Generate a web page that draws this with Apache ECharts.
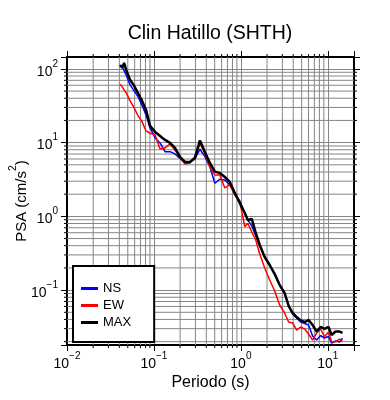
<!DOCTYPE html>
<html><head><meta charset="utf-8">
<script src="https://cdn.jsdelivr.net/npm/echarts@6/dist/echarts.min.js"></script>
<style>html,body{margin:0;padding:0;background:#fff}#c{width:390px;height:400px}</style>
</head><body><div id="c"></div>
<script>
// Period (s)
const periods = [0.0408,0.0431,0.0454,0.0479,0.0532,0.0592,0.0658,0.0731,0.0811,0.0902,
  0.1031,0.1175,0.134,0.1531,0.1746,0.1991,0.2275,0.2594,0.2958,0.3381,
  0.3855,0.4395,0.5023,0.5728,0.6531,0.7464,0.8511,0.9705,1.109,1.2,
  1.334,1.483,1.648,1.879,2.143,2.449,2.793,3.184,3.54,3.936,
  4.375,4.864,5.408,6.012,6.683,7.43,8.26,9.162,10.19,11.04,
  12.27,13.65,14.76];
// PSA (cm/s^2)
const ns = [109.8,106.4,109.8,82.9,60.7,50.3,41.7,31.97,23.8,15.83,
  11.58,9.91,7.55,7.55,7.03,6.10,5.56,5.39,6.01,8.14,
  6.46,4.72,2.81,3.19,3.12,2.67,2.06,1.62,1.11,0.894,
  0.741,0.542,0.397,0.281,0.219,0.165,0.117,0.0913,0.0609,0.0481,
  0.0418,0.0369,0.0352,0.0336,0.0238,0.0210,0.0242,0.0224,0.0235,0.0191,
  0.0204,0.0198,0.0222];
const ew = [62.0,57.0,51.9,47.2,36.8,29.6,23.0,19.10,14.41,13.41,
  12.72,8.2,8.48,9.60,7.96,6.20,5.14,5.30,6.40,9.75,
  7.14,4.68,3.65,3.65,2.43,2.67,1.95,1.57,0.725,0.806,
  0.614,0.478,0.309,0.1995,0.1371,0.0972,0.0628,0.0489,0.0369,0.0358,
  0.0287,0.0316,0.0297,0.0254,0.0210,0.0262,0.0297,0.0233,0.0270,0.0200,
  0.0200,0.0217,0.0200];
const maxv = [113.3,103.2,120.6,96.9,70.9,58.8,46.5,36.8,27.8,16.85,
  13.97,12.33,10.88,9.91,8.48,6.40,5.47,5.47,6.20,10.71,
  7.48,5.30,4.04,3.88,3.42,2.93,2.08,1.52,1.11,0.894,
  0.922,0.595,0.409,0.281,0.219,0.165,0.117,0.0913,0.0609,0.0489,
  0.0431,0.0387,0.0369,0.0393,0.0336,0.0274,0.0316,0.0297,0.0316,0.0246,
  0.0274,0.0274,0.0262];

const seriesNames = ['NS','EW','MAX'];
const xMin = 0.01, xMax = 20, yMin = 0.018, yMax = 145;
const minorMultipliers = [2,3,4,5,6,7,8,9];
const xDecades = [-2,-1,0,1];
const yDecades = [-2,-1,0,1,2];

const FONT = "'Liberation Sans', Arial, Helvetica, sans-serif";
const GRID_COLOR = '#858585';

function minorValues(decades, lo, hi) {
  const out = [];
  decades.forEach(k => minorMultipliers.forEach(m => {
    const v = +(m * Math.pow(10, k)).toPrecision(3);
    if (v > lo && v < hi) out.push(v);
  }));
  return out;
}
const xMinor = minorValues(xDecades, xMin, xMax);
const yMinor = minorValues(yDecades, yMin, yMax);

function powLabel(value) {
  const l = Math.log10(value);
  const e = Math.round(l);
  if (Math.abs(l - e) > 1e-6) return '';
  return '{b|10}{sup|' + (e < 0 ? '\u2212' + (-e) : String(e)) + '}';
}
const labelRich = {
  b: { fontSize: 14, fontFamily: FONT, color: '#000', lineHeight: 20, verticalAlign: 'bottom' },
  sup: { fontSize: 10, fontFamily: FONT, color: '#000', verticalAlign: 'top', lineHeight: 10 }
};

function pairs(arr) { return periods.map((p, i) => [p, arr[i]]); }

const chart = echarts.init(document.getElementById('c'), null, { renderer: 'canvas' });

const axisLineStyle = { show: true, onZero: false, lineStyle: { color: '#000', width: 2 } };
const tickStyle = { show: true, length: 6, inside: false, lineStyle: { color: '#000', width: 1 } };

chart.setOption({
  animation: false,
  backgroundColor: '#fff',
  grid: { left: 67, top: 57, width: 287, height: 288, show: false, containLabel: false, outerBoundsMode: 'none' },
  graphic: [{
    type: 'text', x: 210, y: 34,
    style: { text: 'Clin Hatillo (SHTH)', fontSize: 19.5, fontFamily: FONT, fill: '#000', align: 'center', verticalAlign: 'middle' }
  }],
  legend: {
    orient: 'vertical', left: 73, top: 266,
    padding: [16, 23, 13, 8], itemGap: 4, itemWidth: 17, itemHeight: 3, icon: 'rect',
    backgroundColor: '#fff', borderColor: '#000', borderWidth: 2,
    textStyle: { fontSize: 13, color: '#000', fontFamily: FONT },
    data: seriesNames
  },
  xAxis: [{
    type: 'log', logBase: 10, min: xMin, max: xMax, position: 'bottom',
    axisLine: axisLineStyle, axisTick: tickStyle,
    axisLabel: { formatter: powLabel, rich: labelRich, margin: 6, fontSize: 14, color: '#000', fontFamily: FONT },
    splitLine: { show: true, lineStyle: { color: GRID_COLOR, width: 1 } },
    minorTick: { show: false }, minorSplitLine: { show: false },
    name: 'Periodo (s)', nameLocation: 'middle', nameGap: 30, nameMoveOverlap: false,
    nameTextStyle: { fontSize: 16, color: '#000', fontFamily: FONT }
  }, {
    type: 'log', logBase: 10, min: xMin, max: xMax, position: 'top',
    axisLine: axisLineStyle, axisTick: tickStyle, axisLabel: { show: false }, splitLine: { show: false }
  }],
  yAxis: [{
    type: 'log', logBase: 10, min: yMin, max: yMax, position: 'left',
    axisLine: axisLineStyle, axisTick: tickStyle,
    axisLabel: { formatter: powLabel, rich: labelRich, margin: 9, fontSize: 14, color: '#000', fontFamily: FONT },
    splitLine: { show: true, lineStyle: { color: GRID_COLOR, width: 1 } },
    name: '{b|PSA (cm/s}{sup|2}{b|)}', nameLocation: 'middle', nameGap: 38, nameRotate: 90, nameMoveOverlap: false,
    nameTextStyle: { fontSize: 15, color: '#000', fontFamily: FONT,
      rich: {
        b: { fontSize: 15, fontFamily: FONT, color: '#000', lineHeight: 21, verticalAlign: 'bottom' },
        sup: { fontSize: 10.5, fontFamily: FONT, color: '#000', verticalAlign: 'top', lineHeight: 11 }
      } }
  }, {
    type: 'log', logBase: 10, min: yMin, max: yMax, position: 'right',
    axisLine: axisLineStyle, axisTick: tickStyle, axisLabel: { show: false }, splitLine: { show: false }
  }],
  series: [
    {
      type: 'custom', silent: true, clip: false, z: 1, xAxisIndex: 0, yAxisIndex: 0,
      data: xMinor.map(v => [v, yMin]),
      renderItem: (params, api) => {
        const v = api.value(0);
        const b = api.coord([v, yMin]);
        const t = api.coord([v, yMax]);
        return { type: 'group', children: [
          { type: 'line', shape: { x1: b[0], y1: b[1], x2: t[0], y2: t[1] }, style: { stroke: GRID_COLOR, lineWidth: 1 } },
          { type: 'line', shape: { x1: b[0], y1: b[1], x2: b[0], y2: b[1] + 3 }, style: { stroke: '#000', lineWidth: 1 } },
          { type: 'line', shape: { x1: t[0], y1: t[1], x2: t[0], y2: t[1] - 3 }, style: { stroke: '#000', lineWidth: 1 } }
        ] };
      }
    },
    {
      type: 'custom', silent: true, clip: false, z: 1, xAxisIndex: 0, yAxisIndex: 0,
      data: yMinor.map(v => [xMin, v]),
      renderItem: (params, api) => {
        const v = api.value(1);
        const l = api.coord([xMin, v]);
        const r = api.coord([xMax, v]);
        return { type: 'group', children: [
          { type: 'line', shape: { x1: l[0], y1: l[1], x2: r[0], y2: r[1] }, style: { stroke: GRID_COLOR, lineWidth: 1 } },
          { type: 'line', shape: { x1: l[0], y1: l[1], x2: l[0] - 3, y2: l[1] }, style: { stroke: '#000', lineWidth: 1 } },
          { type: 'line', shape: { x1: r[0], y1: r[1], x2: r[0] + 3, y2: r[1] }, style: { stroke: '#000', lineWidth: 1 } }
        ] };
      }
    },
    { name: 'NS', type: 'line', data: pairs(ns), showSymbol: false, symbol: 'none', z: 3,
      color: '#0000ff', lineStyle: { color: '#0000ff', width: 1.5 } },
    { name: 'EW', type: 'line', data: pairs(ew), showSymbol: false, symbol: 'none', z: 3,
      color: '#ff0000', lineStyle: { color: '#ff0000', width: 1.5 } },
    { name: 'MAX', type: 'line', data: pairs(maxv), showSymbol: false, symbol: 'none', z: 4,
      color: '#000000', lineStyle: { color: '#000000', width: 2.5 } }
  ]
});
</script>
</body></html>
